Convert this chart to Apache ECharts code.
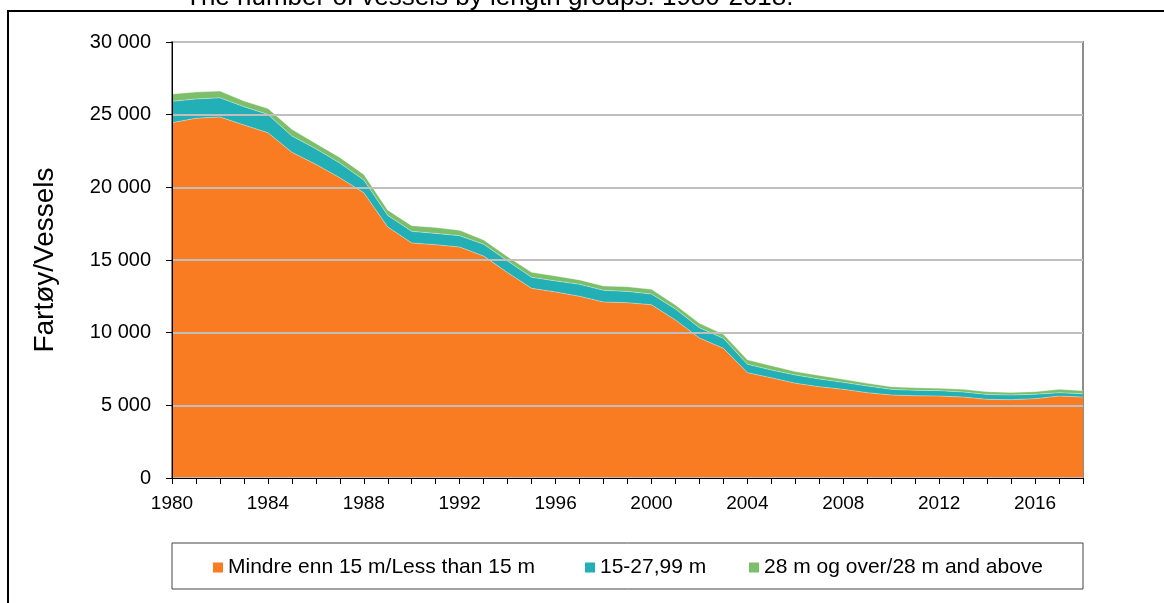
<!DOCTYPE html>
<html>
<head>
<meta charset="utf-8">
<script src="https://cdn.jsdelivr.net/npm/echarts@6/dist/echarts.min.js"></script>
<style>
  html, body { margin: 0; padding: 0; background: #fff; }
  #chart { width: 1164px; height: 603px; }
</style>
</head>
<body>
<div id="chart"></div>
<script>
  // years on the x axis
  const years = [
    '1980', '1981', '1982', '1983', '1984', '1985', '1986', '1987', '1988', '1989',
    '1990', '1991', '1992', '1993', '1994', '1995', '1996', '1997', '1998', '1999',
    '2000', '2001', '2002', '2003', '2004', '2005', '2006', '2007', '2008', '2009',
    '2010', '2011', '2012', '2013', '2014', '2015', '2016', '2017', '2018'
  ]
  // Mindre enn 15 m / Less than 15 m
  const under15 = [
    24450, 24750, 24840, 24290, 23760, 22410, 21580, 20660, 19630, 17270,
    16170, 16050, 15890, 15270, 14130, 13050, 12800, 12500, 12110, 12060,
    11920, 10870, 9630, 8920, 7250, 6890, 6520, 6280, 6100, 5870,
    5710, 5660, 5640, 5570, 5410, 5390, 5460, 5640, 5570
  ]
  // 15-27,99 m
  const mid15to28 = [
    1470, 1330, 1320, 1260, 1260, 1120, 1070, 1010, 870, 800,
    800, 780, 780, 810, 800, 760, 760, 830, 800, 780,
    740, 760, 710, 690, 580, 540, 570, 530, 480, 460,
    390, 370, 370, 350, 340, 320, 300, 230, 230
  ]
  // 28 m og over / 28 m and above
  const over28 = [
    500, 480, 460, 390, 410, 460, 370, 390, 390, 360,
    390, 410, 370, 300, 300, 340, 340, 300, 300, 320,
    320, 280, 300, 280, 300, 300, 230, 250, 210, 190,
    180, 180, 160, 180, 180, 180, 180, 230, 210
  ]
  const seriesNames = ['Mindre enn 15 m/Less than 15 m', '15-27,99 m', '28 m og over/28 m and above']
  const yTicks = { min: 0, max: 30000, step: 5000 }

  const font = 'Liberation Sans, Arial, sans-serif'
  const colors = ['#F97B22', '#22B0B6', '#7DBE6A']

  const myChart = echarts.init(document.getElementById('chart'))

  function areaSeries (name, data) {
    return {
      name: name,
      type: 'line',
      stack: 'vessels',
      data: data,
      symbol: 'none',
      lineStyle: { width: 0.8, color: 'rgba(255,255,255,0.45)' },
      areaStyle: { opacity: 1 }
    }
  }

  // one legend per entry so each sits where the reference has it
  const legendLefts = [208, 580, 744]
  const legends = seriesNames.map((name, i) => ({
    data: [name],
    left: legendLefts[i],
    top: 552,
    icon: 'rect',
    itemWidth: 10,
    itemHeight: 10,
    textStyle: { fontSize: 21, color: '#000', fontFamily: font },
    selectedMode: false
  }))

  myChart.setOption({
    animation: false,
    color: colors,
    textStyle: { fontFamily: font },
    graphic: [
      {
        // outer frame, open to the right and bottom
        type: 'rect',
        shape: { x: 8, y: 11, width: 1200, height: 700 },
        style: { fill: 'none', stroke: '#000', lineWidth: 2 },
        silent: true,
        z: 0
      },
      {
        type: 'text',
        left: 185,
        top: -15,
        style: {
          text: 'The number of vessels by length groups. 1980-2018.',
          font: '26px ' + font,
          fill: '#000'
        },
        z: 1
      },
      {
        // legend box
        type: 'rect',
        shape: { x: 172, y: 543, width: 911, height: 46 },
        style: { fill: '#fff', stroke: '#444', lineWidth: 1 },
        silent: true,
        z: 0
      }
    ],
    legend: legends,
    grid: {
      left: 172,
      right: 81,
      top: 42,
      bottom: 125,
      show: true,
      backgroundColor: 'transparent',
      borderColor: '#8C8C8C',
      borderWidth: 2,
      z: 3
    },
    xAxis: {
      type: 'category',
      boundaryGap: false,
      data: years,
      z: 4,
      axisLine: { lineStyle: { color: '#000', width: 1 } },
      axisTick: { show: true, interval: 0, length: 6, lineStyle: { color: '#000' } },
      axisLabel: { interval: 3, margin: 16, fontSize: 19, color: '#000', fontFamily: font },
      splitLine: { show: false }
    },
    yAxis: {
      type: 'value',
      min: yTicks.min,
      max: yTicks.max,
      interval: yTicks.step,
      z: 4,
      name: 'Fartøy/Vessels',
      nameLocation: 'middle',
      nameRotate: 90,
      nameGap: 113,
      nameTextStyle: { fontSize: 28, color: '#000', fontFamily: font },
      axisLine: { show: true, lineStyle: { color: '#000', width: 1 } },
      axisTick: { show: true, length: 6, lineStyle: { color: '#000' } },
      axisLabel: {
        margin: 21,
        fontSize: 20,
        color: '#000',
        fontFamily: font,
        formatter: function (v) {
          return String(v).replace(/\B(?=(\d{3})+(?!\d))/g, ' ')
        }
      },
      splitLine: { show: true, lineStyle: { color: '#BFBFBF', width: 2 } }
    },
    series: [
      areaSeries(seriesNames[0], under15),
      areaSeries(seriesNames[1], mid15to28),
      areaSeries(seriesNames[2], over28)
    ]
  })
</script>
</body>
</html>
